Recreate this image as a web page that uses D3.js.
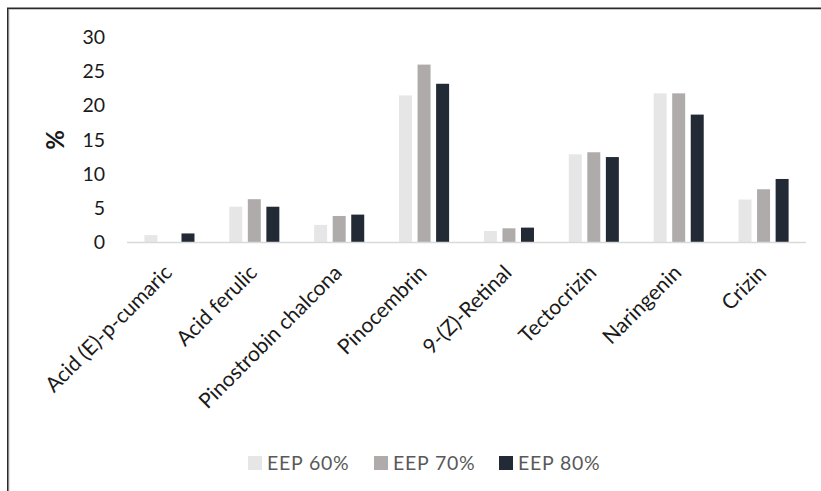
<!DOCTYPE html>
<html>
<head>
<meta charset="utf-8">
<script src="https://cdn.jsdelivr.net/npm/d3@7"></script>
<style>
  html, body { margin: 0; padding: 0; background: #fff; }
  svg { display: block; }
</style>
</head>
<body>
<svg id="chart" width="821" height="491"></svg>
<script>
const categories = ["Acid (E)-p-cumaric", "Acid ferulic", "Pinostrobin chalcona", "Pinocembrin", "9-(Z)-Retinal", "Tectocrizin", "Naringenin", "Crizin"];
const seriesNames = ["EEP 60%", "EEP 70%", "EEP 80%"];
const eep60 = [1.0, 5.15, 2.5, 21.4, 1.6, 12.8, 21.7, 6.2];
const eep70 = [0, 6.25, 3.8, 25.9, 2.0, 13.1, 21.7, 7.7];
const eep80 = [1.25, 5.15, 4.0, 23.1, 2.1, 12.4, 18.6, 9.2];
const yTicks = [0, 5, 10, 15, 20, 25, 30];
const colors = ["#e6e6e6", "#afabab", "#222a35"];

const seriesValues = [eep60, eep70, eep80];
const svg = d3.select("#chart");
const font = "Lato, 'Open Sans', sans-serif";

// frame
svg.append("rect").attr("x", 9).attr("y", 9.5).attr("width", 900).attr("height", 600)
  .attr("fill", "none").attr("stroke", "#c8c8c8").attr("stroke-width", 1);
svg.append("rect").attr("x", 7.75).attr("y", 8.25).attr("width", 900).attr("height", 600)
  .attr("fill", "none").attr("stroke", "#2a2a2a").attr("stroke-width", 1.5);

const plotLeft = 127, plotRight = 806, plotTop = 36.5, plotBottom = 242;
const x0 = d3.scaleBand().domain(categories).range([plotLeft, plotRight]).padding(0);
const x1 = d3.scaleBand().domain(seriesNames).range([17.4, x0.bandwidth() - 17.4]).paddingInner(0.3);
const y = d3.scaleLinear().domain([0, 30]).range([plotBottom, plotTop]);

// y axis labels
const yAxis = d3.axisLeft(y).tickValues(yTicks).tickSize(0).tickPadding(0).tickFormat(d3.format("d"));
const yg = svg.append("g").attr("transform", `translate(105,0)`).call(yAxis);
yg.select(".domain").remove();
yg.selectAll("text").attr("font-family", font).attr("font-size", 19.5).attr("fill", "#1a1a1a").attr("dy", "0.35em");

svg.append("text").attr("transform", `translate(64,140) rotate(-90)`)
  .attr("text-anchor", "middle").attr("font-family", font).attr("font-size", 24).attr("font-weight", "bold").attr("fill", "#1a1a1a")
  .text("%");

// bars
const groups = svg.append("g").selectAll("g").data(categories).join("g")
  .attr("transform", d => `translate(${x0(d)},0)`);
groups.selectAll("rect").data((d, i) => seriesNames.map((s, j) => ({ s, j, v: seriesValues[j][i] })))
  .join("rect")
  .attr("x", d => x1(d.s)).attr("width", x1.bandwidth())
  .attr("y", d => y(d.v)).attr("height", d => y(0) - y(d.v))
  .attr("fill", d => colors[d.j]);

// baseline
svg.append("line").attr("x1", plotLeft).attr("x2", plotRight).attr("y1", plotBottom + 0.5).attr("y2", plotBottom + 0.5)
  .attr("stroke", "#d9d9d9").attr("stroke-width", 1.5);

// category labels
const xAxis = d3.axisBottom(x0).tickSize(0).tickPadding(0);
const xg = svg.append("g").attr("transform", `translate(0,${plotBottom})`).call(xAxis);
xg.select(".domain").remove();
xg.selectAll("text")
  .attr("font-family", font).attr("font-size", 21).attr("fill", "#1a1a1a")
  .attr("text-anchor", "end").attr("dy", null).attr("y", 0)
  .attr("transform", "translate(4,32) rotate(-45)");

// legend
const legendX = [248, 374, 499];
const lg = svg.append("g").selectAll("g").data(seriesNames).join("g")
  .attr("transform", (d, i) => `translate(${legendX[i]},456)`);
lg.append("rect").attr("width", 14).attr("height", 14).attr("fill", (d, i) => colors[i]);
lg.append("text").attr("x", 19).attr("y", 14)
  .attr("font-family", font).attr("font-size", 19.5).attr("letter-spacing", 0.8).attr("fill", "#595959")
  .text(d => d);
</script>
</body>
</html>
